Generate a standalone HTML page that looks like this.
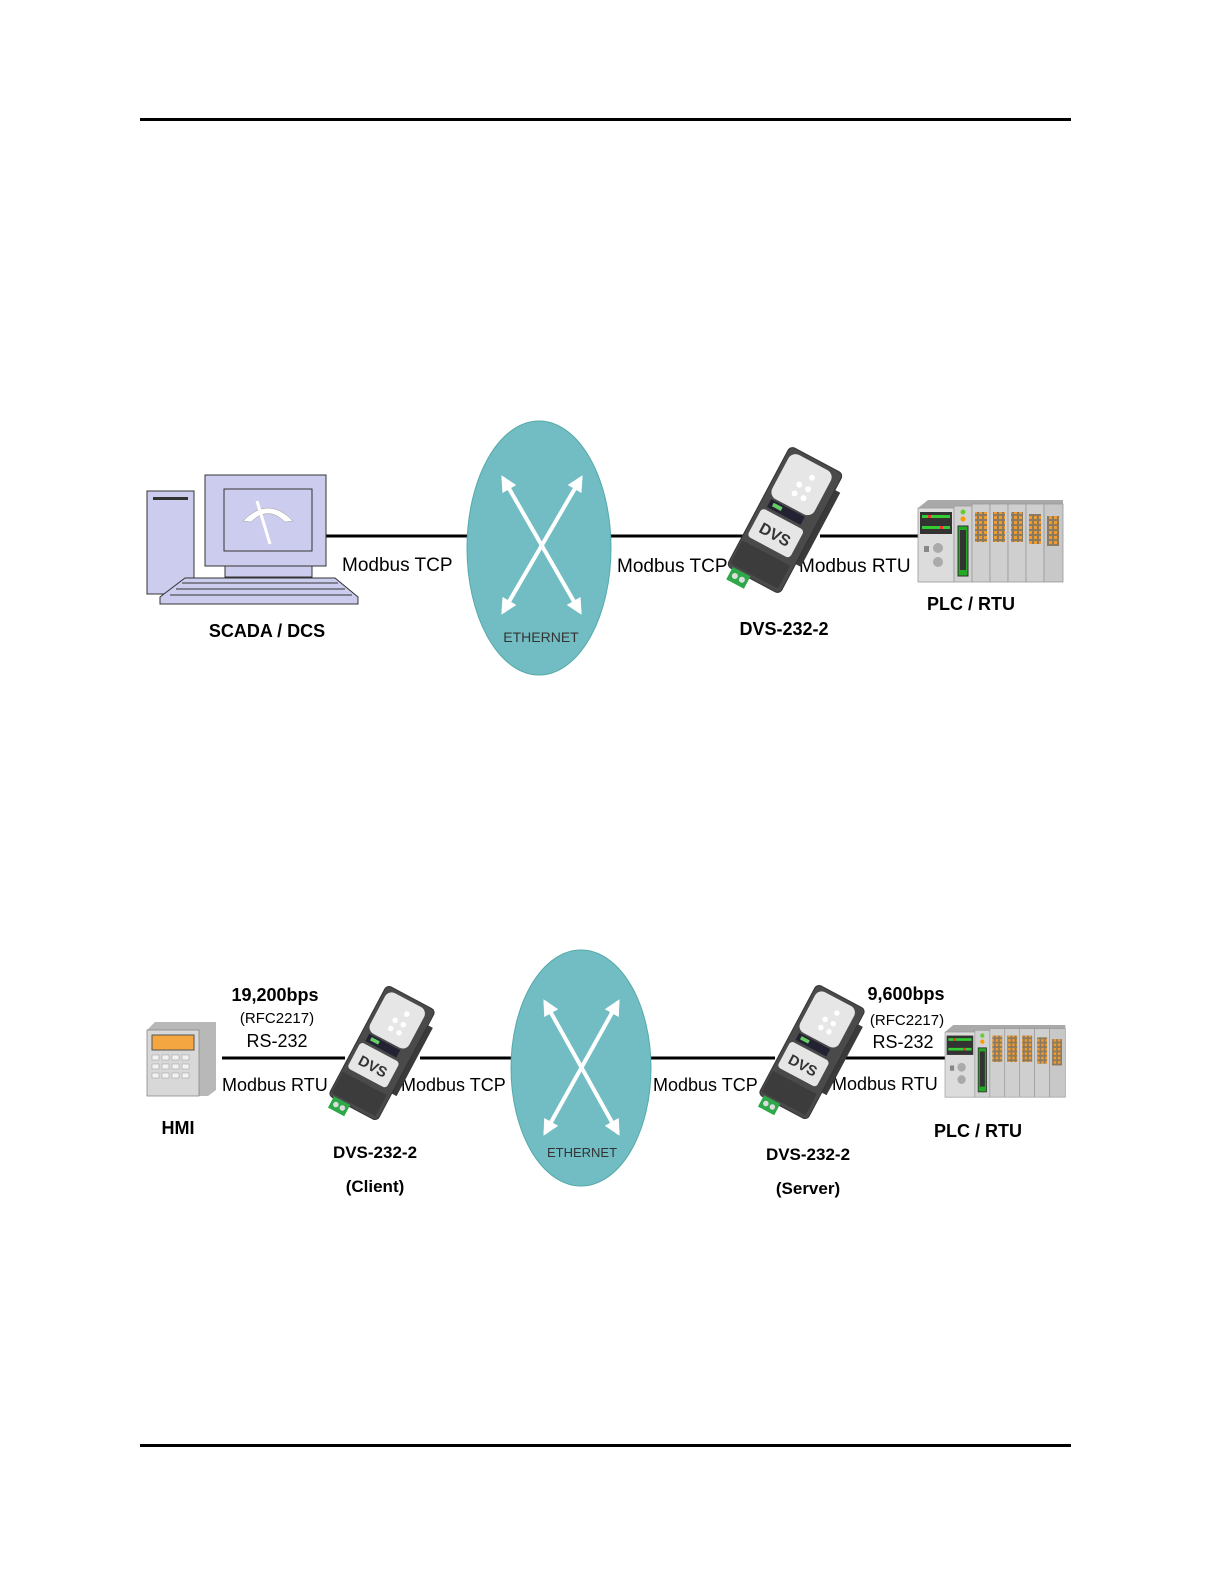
<!DOCTYPE html>
<html><head><meta charset="utf-8"><style>
html,body{margin:0;padding:0;background:#fff}
svg{display:block}
text{font-family:"Liberation Sans",Arial,sans-serif}
</style></head><body>
<svg width="1225" height="1585" viewBox="0 0 1225 1585" xmlns="http://www.w3.org/2000/svg">
<defs>
  <g id="dvs">
    <rect x="22" y="-50" width="14" height="84" fill="#3a3a3a"/>
    <rect x="-30" y="-68" width="60" height="136" rx="5" fill="#4a4a4a" stroke="#333" stroke-width="1"/>
    <rect x="-26" y="-64" width="48" height="50" rx="8" fill="#e6e6e6"/>
    <circle cx="-4" cy="-38" r="3" fill="#fff"/><circle cx="6" cy="-38" r="3" fill="#fff"/>
    <circle cx="-4" cy="-28" r="3" fill="#fff"/><circle cx="6" cy="-28" r="3" fill="#fff"/>
    <circle cx="4" cy="-50" r="3" fill="#fff"/>
    <rect x="-22" y="-12" width="38" height="9" fill="#223" />
    <rect x="-18" y="-10" width="10" height="4" fill="#6c6"/>
    <rect x="-26" y="0" width="48" height="32" rx="4" fill="#e6e6e6"/>
    <text x="-2" y="23" font-size="16" font-weight="bold" fill="#333" text-anchor="middle">DVS</text>
    <rect x="-28" y="38" width="54" height="26" fill="#3c3c3c"/>
    <rect x="-24" y="66" width="20" height="14" fill="#2fa84a"/>
    <circle cx="-18" cy="73" r="3" fill="#ddd"/><circle cx="-10" cy="73" r="3" fill="#ddd"/>
  </g>
  <pattern id="dots" width="5" height="5" patternUnits="userSpaceOnUse">
    <rect width="5" height="5" fill="#8a7a60"/><rect x="1" y="1" width="3" height="3" fill="#f09a30"/>
  </pattern>
  <g id="plc">
    <polygon points="0,8 10,0 145,0 145,74 135,82 0,82" fill="#a9a9a9"/>
    <rect x="0" y="8" width="36" height="74" fill="#dcdcdc" stroke="#999" stroke-width="0.8"/>
    <rect x="2" y="12" width="32" height="22" fill="#333"/>
    <rect x="4" y="15" width="28" height="3" fill="#3c3"/><rect x="4" y="26" width="28" height="3" fill="#3c3"/>
    <rect x="10" y="15" width="3" height="3" fill="#e33"/><rect x="22" y="26" width="3" height="3" fill="#e33"/>
    <circle cx="20" cy="48" r="5" fill="#aaa"/><circle cx="20" cy="62" r="5" fill="#aaa"/><rect x="6" y="46" width="5" height="6" fill="#888"/>
    <rect x="36" y="6" width="18" height="76" fill="#d2d2d2" stroke="#999" stroke-width="0.8"/>
    <circle cx="45" cy="12" r="2.5" fill="#6c3"/><circle cx="45" cy="19" r="2.5" fill="#f90"/>
    <rect x="40" y="26" width="10" height="50" fill="#2a2" stroke="#333"/>
    <rect x="42" y="30" width="6" height="40" fill="#333"/>
    <rect x="54" y="4" width="18" height="78" fill="#cfcfcf" stroke="#999" stroke-width="0.8"/>
    <rect x="72" y="4" width="18" height="78" fill="#cfcfcf" stroke="#999" stroke-width="0.8"/>
    <rect x="90" y="4" width="18" height="78" fill="#cfcfcf" stroke="#999" stroke-width="0.8"/>
    <rect x="108" y="4" width="18" height="78" fill="#cfcfcf" stroke="#999" stroke-width="0.8"/>
    <rect x="126" y="4" width="19" height="78" fill="#c8c8c8" stroke="#999" stroke-width="0.8"/>
    <rect x="57" y="12" width="12" height="30" fill="url(#dots)"/>
    <rect x="75" y="12" width="12" height="30" fill="url(#dots)"/>
    <rect x="93" y="12" width="12" height="30" fill="url(#dots)"/>
    <rect x="111" y="14" width="12" height="30" fill="url(#dots)"/>
    <rect x="129" y="16" width="12" height="30" fill="url(#dots)"/>
  </g>
  <marker id="ah" viewBox="0 0 10 10" refX="8" refY="5" markerWidth="4" markerHeight="4" orient="auto-start-reverse">
    <path d="M0,0 L10,5 L0,10 z" fill="#fff"/>
  </marker>
</defs>

<rect x="140" y="118" width="931" height="3" fill="#000"/>
<rect x="140" y="1444" width="931" height="3" fill="#000"/>

<!-- Diagram 1 -->
<line x1="326" y1="536" x2="470" y2="536" stroke="#000" stroke-width="3"/>
<line x1="608" y1="536" x2="745" y2="536" stroke="#000" stroke-width="3"/>
<line x1="820" y1="536" x2="920" y2="536" stroke="#000" stroke-width="3"/>
<ellipse cx="539" cy="548" rx="72" ry="127" fill="#72bdc3" stroke="#5aa" stroke-width="1"/>
<line x1="503" y1="478" x2="580" y2="612" stroke="#fff" stroke-width="4" marker-start="url(#ah)" marker-end="url(#ah)"/>
<line x1="581" y1="478" x2="503" y2="612" stroke="#fff" stroke-width="4" marker-start="url(#ah)" marker-end="url(#ah)"/>
<text x="541" y="642" font-size="14" fill="#333" text-anchor="middle">ETHERNET</text>

<!-- computer -->
<rect x="147" y="491" width="47" height="103" fill="#ccccee" stroke="#333" stroke-width="1"/>
<rect x="153" y="497" width="35" height="3" fill="#333"/>
<rect x="205" y="475" width="121" height="91" fill="#ccccee" stroke="#333" stroke-width="1"/>
<rect x="224" y="489" width="88" height="62" fill="#ccccee" stroke="#333" stroke-width="1"/>
<path d="M243,521 Q268,495 293,521 L285,522 Q268,505 251,522 Z" fill="#fff" stroke="#999" stroke-width="0.5"/>
<line x1="257" y1="501" x2="270" y2="544" stroke="#fff" stroke-width="3"/>
<rect x="225" y="566" width="87" height="11" fill="#ccccee" stroke="#333" stroke-width="1"/>
<path d="M185,578 L335,578 L358,597 L358,604 L160,604 L160,597 Z" fill="#ccccee" stroke="#333" stroke-width="1"/>
<line x1="182" y1="583" x2="338" y2="583" stroke="#333"/>
<line x1="176" y1="589" x2="345" y2="589" stroke="#333"/>
<line x1="170" y1="595" x2="352" y2="595" stroke="#333"/>

<text x="342" y="571" font-size="19">Modbus TCP</text>
<text x="267" y="637" font-size="18" font-weight="bold" text-anchor="middle">SCADA / DCS</text>
<text x="617" y="572" font-size="19">Modbus TCP</text>
<text x="799" y="572" font-size="19">Modbus RTU</text>
<use href="#dvs" transform="translate(785,520) rotate(28)"/>
<text x="784" y="635" font-size="18" font-weight="bold" text-anchor="middle">DVS-232-2</text>
<use href="#plc" transform="translate(918,500)"/>
<text x="971" y="610" font-size="18" font-weight="bold" text-anchor="middle">PLC / RTU</text>

<!-- Diagram 2 -->
<line x1="222" y1="1058" x2="345" y2="1058" stroke="#000" stroke-width="3"/>
<line x1="420" y1="1058" x2="514" y2="1058" stroke="#000" stroke-width="3"/>
<line x1="648" y1="1058" x2="775" y2="1058" stroke="#000" stroke-width="3"/>
<line x1="845" y1="1058" x2="947" y2="1058" stroke="#000" stroke-width="3"/>
<ellipse cx="581" cy="1068" rx="70" ry="118" fill="#72bdc3" stroke="#5aa" stroke-width="1"/>
<line x1="545" y1="1002" x2="618" y2="1133" stroke="#fff" stroke-width="4" marker-start="url(#ah)" marker-end="url(#ah)"/>
<line x1="618" y1="1002" x2="545" y2="1133" stroke="#fff" stroke-width="4" marker-start="url(#ah)" marker-end="url(#ah)"/>
<text x="582" y="1157" font-size="13" fill="#333" text-anchor="middle">ETHERNET</text>

<!-- HMI -->
<polygon points="147,1030 155,1022 216,1022 216,1090 208,1096 147,1096" fill="#b8b8b8"/>
<rect x="147" y="1030" width="52" height="66" fill="#d8d8d8" stroke="#888" stroke-width="0.8"/>
<rect x="152" y="1035" width="42" height="15" fill="#f4a640" stroke="#555"/>
<g fill="#f2f2f2" stroke="#999" stroke-width="0.5">
<rect x="152" y="1055" width="7" height="5"/><rect x="162" y="1055" width="7" height="5"/><rect x="172" y="1055" width="7" height="5"/><rect x="182" y="1055" width="7" height="5"/>
<rect x="152" y="1064" width="7" height="5"/><rect x="162" y="1064" width="7" height="5"/><rect x="172" y="1064" width="7" height="5"/><rect x="182" y="1064" width="7" height="5"/>
<rect x="152" y="1073" width="7" height="5"/><rect x="162" y="1073" width="7" height="5"/><rect x="172" y="1073" width="7" height="5"/><rect x="182" y="1073" width="7" height="5"/>
</g>

<text x="275" y="1001" font-size="18" font-weight="bold" text-anchor="middle">19,200bps</text>
<text x="277" y="1023" font-size="15" text-anchor="middle">(RFC2217)</text>
<text x="277" y="1047" font-size="18" text-anchor="middle">RS-232</text>
<text x="222" y="1091" font-size="18">Modbus RTU</text>
<text x="401" y="1091" font-size="18">Modbus TCP</text>
<text x="178" y="1134" font-size="18" font-weight="bold" text-anchor="middle">HMI</text>
<use href="#dvs" transform="translate(382,1053) rotate(28) scale(0.92)"/>
<text x="375" y="1158" font-size="17" font-weight="bold" text-anchor="middle">DVS-232-2</text>
<text x="375" y="1192" font-size="17" font-weight="bold" text-anchor="middle">(Client)</text>

<text x="653" y="1091" font-size="18">Modbus TCP</text>
<text x="832" y="1090" font-size="18">Modbus RTU</text>
<text x="906" y="1000" font-size="18" font-weight="bold" text-anchor="middle">9,600bps</text>
<text x="907" y="1025" font-size="15" text-anchor="middle">(RFC2217)</text>
<text x="903" y="1048" font-size="18" text-anchor="middle">RS-232</text>
<use href="#dvs" transform="translate(812,1052) rotate(28) scale(0.92)"/>
<text x="808" y="1160" font-size="17" font-weight="bold" text-anchor="middle">DVS-232-2</text>
<text x="808" y="1194" font-size="17" font-weight="bold" text-anchor="middle">(Server)</text>
<use href="#plc" transform="translate(945,1025) scale(0.83,0.88)"/>
<text x="978" y="1137" font-size="18" font-weight="bold" text-anchor="middle">PLC / RTU</text>
</svg>
</body></html>
